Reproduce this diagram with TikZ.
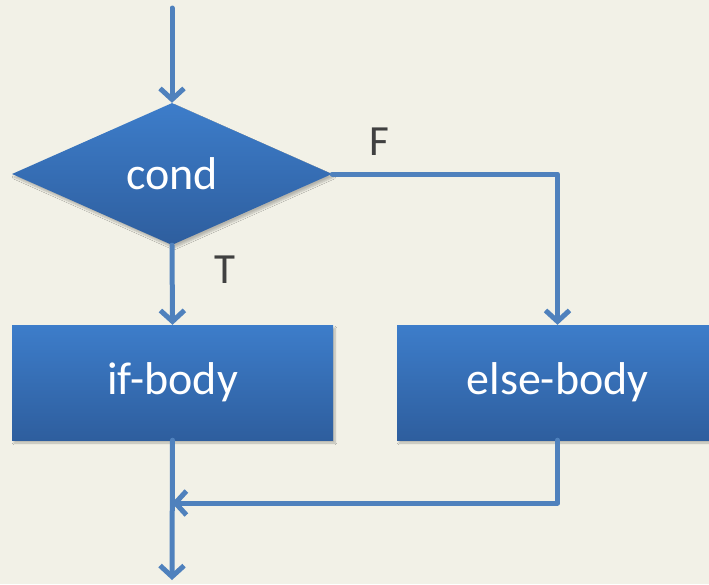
\documentclass[tikz,border=0pt]{standalone}
\usepackage{fontspec}
\setmainfont{Carlito}
\usetikzlibrary{shapes.geometric,arrows.meta,shadows.blur}
\definecolor{bgc}{HTML}{F2F1E7}
\definecolor{linec}{HTML}{4F81BD}
\definecolor{topc}{HTML}{3D7DCA}
\definecolor{botc}{HTML}{2E5E9E}
\definecolor{lblc}{HTML}{404040}
\tikzset{
  flowbox/.style={draw=none, top color=topc, bottom color=botc, text=white,
    font=\fontsize{46}{52}\selectfont, inner sep=0pt,
    blur shadow={shadow xshift=2pt, shadow yshift=-3pt, shadow blur steps=6, shadow opacity=25}},
  condbox/.style={flowbox, diamond, minimum width=320pt, minimum height=142pt},
  stepbox/.style={flowbox, rectangle, minimum width=321pt, minimum height=115pt},
  flow/.style={draw=linec, line width=5pt, line cap=round, line join=round,
    -{Straight Barb[length=11pt,width=24pt,line width=5pt]}},
  lbl/.style={text=lblc, font=\fontsize{43}{48}\selectfont, inner sep=0pt}
}
\begin{document}
\begin{tikzpicture}[x=1pt,y=-1pt]
\fill[bgc] (0,0) rectangle (709,584);
\useasboundingbox (0,0) rectangle (709,584);
\node[condbox] (cond) at (172,174) {cond};
\node[stepbox] (ifb) at (172.5,382.5) {if-body};
\node[stepbox] (elseb) at (557.5,382.5) {else-body};
\coordinate (start) at (172,8);
\coordinate (join) at (172,503);
\coordinate (finish) at (172,580);
\draw[flow] (start) -- (cond.north);
\draw[flow] (cond.south) -- (ifb.north);
\draw[flow] (cond.east) -| (elseb.north);
\draw[flow] (elseb.south) |- (join);
\draw[flow] (ifb.south) -- (finish);
\node[lbl] (flabel) at (379,142) {F};
\node[lbl] (tlabel) at (225,270) {T};
\end{tikzpicture}
\end{document}
